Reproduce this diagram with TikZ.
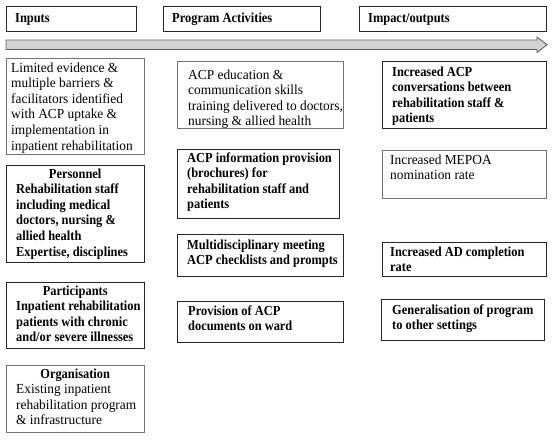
\documentclass[tikz,border=0pt]{standalone}
\usepackage{fontspec}
\setmainfont{Liberation Serif}[UprightFeatures={FakeStretch=0.97},BoldFeatures={FakeStretch=0.9}]
\newcommand\fsz{\fontsize{13.8}{15.6}\selectfont}
\tikzset{
  box/.style={draw=black!85, line width=0.9pt, anchor=north west, inner sep=0pt, outer sep=0pt},
  lbox/.style={box, draw=black!55},
  txt/.style={anchor=base west, inner sep=0pt, font=\fsz},
  arrowbody/.style={fill=gray!35, draw=gray!75!black, line width=0.9pt},
}
\begin{document}
\begin{tikzpicture}[x=1pt,y=-1pt]
\useasboundingbox (0,0) rectangle (554,440);

% headers
\node[box, minimum width=130pt, minimum height=25pt] (H1) at (6,6) {};
\node[box, minimum width=157pt, minimum height=25pt] (H2) at (163,6) {};
\node[box, minimum width=187pt, minimum height=25pt] (H3) at (359,6) {};
\node[txt] (H1t) at (15,22.7) {\textbf{Inputs}};
\node[txt] (H2t) at (172,22.7) {\textbf{Program Activities}};
\node[txt] (H3t) at (368,22.7) {\textbf{Impact/outputs}};

% timeline arrow
\coordinate (A0) at (6,44.75);
\coordinate (A1) at (547,44.75);
\draw[arrowbody] (6,40) -- (537,40) -- (537,37) -- (A1) -- (537,52.5) -- (537,49.5) -- (6,49.5) -- cycle;

% inputs
\node[lbox, minimum width=138pt, minimum height=96pt] (L1) at (6,58) {};
\node[box, minimum width=138pt, minimum height=97pt] (L2) at (6,165) {};
\node[box, minimum width=138pt, minimum height=66pt] (L3) at (6,282) {};
\node[lbox, minimum width=138pt, minimum height=67pt] (L4) at (6,365) {};

\node[txt] (L1t) at (11,72) {\parbox[t]{140pt}{Limited evidence \&\\ multiple barriers \&\\ facilitators identified\\ with ACP uptake \&\\ implementation in\\ inpatient rehabilitation}};
\node[txt] (L2t) at (16,178) {\parbox[t]{140pt}{\bfseries\makebox[118pt][c]{Personnel}\\ Rehabilitation staff\\ including medical\\ doctors, nursing \&\\ allied health\\ Expertise, disciplines}};
\node[txt] (L3t) at (16,295) {\parbox[t]{140pt}{\bfseries\makebox[118pt][c]{Participants}\\ Inpatient rehabilitation\\ patients with chronic\\ and/or severe illnesses}};
\node[txt] (L4t) at (16,378) {\parbox[t]{140pt}{\makebox[118pt][c]{\textbf{Organisation}}\\ Existing inpatient\\ rehabilitation program\\ \& infrastructure}};

% activities
\node[lbox, minimum width=166pt, minimum height=67pt] (M1) at (177,61) {};
\node[box, minimum width=162pt, minimum height=69pt] (M2) at (177,149) {};
\node[box, minimum width=166pt, minimum height=42pt] (M3) at (177,234) {};
\node[box, minimum width=166pt, minimum height=41pt] (M4) at (177,301) {};

\node[txt] (M1t) at (188,79) {\parbox[t]{170pt}{ACP education \&\\ communication skills\\ training delivered to doctors,\\ nursing \& allied health}};
\node[txt] (M2t) at (187,162) {\parbox[t]{170pt}{\bfseries ACP information provision\\ (brochures) for\\ rehabilitation staff and\\ patients}};
\node[txt] (M3t) at (187,249) {\parbox[t]{170pt}{\bfseries Multidisciplinary meeting\\ ACP checklists and prompts}};
\node[txt] (M4t) at (188,315) {\parbox[t]{170pt}{\bfseries Provision of ACP\\ documents on ward}};

% outputs
\node[box, minimum width=164pt, minimum height=67pt] (R1) at (382,61) {};
\node[lbox, minimum width=164pt, minimum height=48pt] (R2) at (382,150) {};
\node[box, minimum width=164pt, minimum height=34pt] (R3) at (382,242) {};
\node[box, minimum width=163pt, minimum height=41pt] (R4) at (381,299) {};

\node[txt] (R1t) at (392,76) {\parbox[t]{170pt}{\bfseries Increased ACP\\ conversations between\\ rehabilitation staff \&\\ patients}};
\node[txt] (R2t) at (390,164) {\parbox[t]{170pt}{Increased MEPOA\\ nomination rate}};
\node[txt] (R3t) at (390,256) {\parbox[t]{170pt}{\bfseries Increased AD completion\\ rate}};
\node[txt] (R4t) at (392,314) {\parbox[t]{170pt}{\bfseries Generalisation of program\\ to other settings}};
\end{tikzpicture}
\end{document}
